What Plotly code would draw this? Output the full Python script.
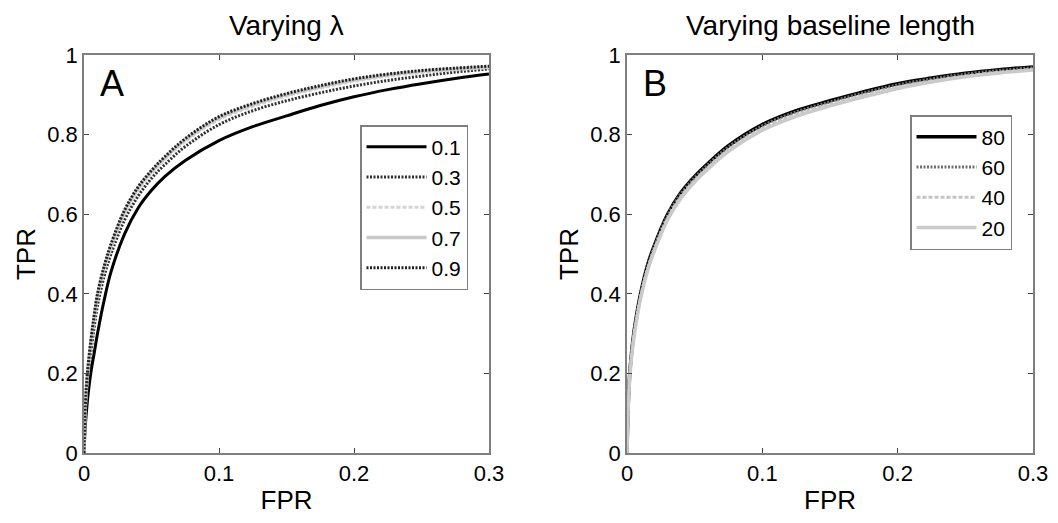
import plotly.graph_objects as go

# ---------------- data ----------------
fpr = [0, 0.001, 0.0025, 0.005, 0.0075, 0.01, 0.015, 0.02, 0.03, 0.04, 0.05,
       0.06, 0.075, 0.1, 0.125, 0.15, 0.175, 0.2, 0.225, 0.25, 0.275, 0.3]

# Panel A: varying lambda
lambda_labels = ["0.1", "0.3", "0.5", "0.7", "0.9"]
tpr_l01 = [0, 0.07, 0.13, 0.20, 0.25, 0.30, 0.385, 0.455, 0.55, 0.615, 0.66,
           0.695, 0.735, 0.785, 0.82, 0.847, 0.873, 0.895, 0.913, 0.928, 0.941, 0.952]
tpr_l03 = [0, 0.10, 0.17, 0.25, 0.315, 0.37, 0.445, 0.50, 0.585, 0.645, 0.69,
           0.725, 0.77, 0.825, 0.86, 0.885, 0.905, 0.922, 0.936, 0.947, 0.957, 0.965]
tpr_l05 = [0, 0.115, 0.19, 0.272, 0.337, 0.392, 0.462, 0.515, 0.602, 0.66, 0.703,
           0.738, 0.783, 0.838, 0.871, 0.897, 0.917, 0.934, 0.947, 0.956, 0.963, 0.968]
tpr_l07 = [0, 0.118, 0.196, 0.277, 0.342, 0.397, 0.467, 0.52, 0.607, 0.665, 0.707,
           0.742, 0.787, 0.842, 0.875, 0.900, 0.920, 0.937, 0.950, 0.959, 0.965, 0.970]
tpr_l09 = [0, 0.12, 0.20, 0.28, 0.345, 0.40, 0.47, 0.525, 0.61, 0.668, 0.71,
           0.745, 0.79, 0.845, 0.878, 0.903, 0.923, 0.94, 0.952, 0.961, 0.967, 0.972]

# Panel B: varying baseline length
baseline_labels = ["80", "60", "40", "20"]
tpr_b80 = [0, 0.13, 0.22, 0.30, 0.355, 0.40, 0.47, 0.52, 0.60, 0.655, 0.695,
           0.728, 0.772, 0.825, 0.86, 0.885, 0.908, 0.928, 0.942, 0.954, 0.963, 0.970]
tpr_b60 = [0, 0.128, 0.218, 0.297, 0.352, 0.397, 0.467, 0.517, 0.597, 0.652, 0.692,
           0.725, 0.769, 0.822, 0.857, 0.882, 0.905, 0.925, 0.940, 0.952, 0.961, 0.968]
tpr_b40 = [0, 0.125, 0.213, 0.292, 0.346, 0.391, 0.46, 0.51, 0.59, 0.645, 0.685,
           0.718, 0.762, 0.815, 0.85, 0.876, 0.899, 0.919, 0.935, 0.947, 0.957, 0.964]
tpr_b20 = [0, 0.122, 0.21, 0.288, 0.342, 0.387, 0.456, 0.506, 0.586, 0.641, 0.681,
           0.714, 0.758, 0.811, 0.846, 0.872, 0.895, 0.916, 0.932, 0.945, 0.955, 0.962]

x_ticks = [0, 0.1, 0.2, 0.3]
x_ticklabels = ["0", "0.1", "0.2", "0.3"]
y_ticks = [0, 0.2, 0.4, 0.6, 0.8, 1]
y_ticklabels = ["0", "0.2", "0.4", "0.6", "0.8", "1"]

# ---------------- figure ----------------
FONT = "Liberation Sans, Arial, sans-serif"
W, H = 1058, 523

fig = go.Figure()

styleA = [
    dict(color="black", width=3, dash="solid"),
    dict(color="#303030", width=3, dash="2px,1.5px"),
    dict(color="#d4d4d4", width=3, dash="4px,2px"),
    dict(color="#c8c8c8", width=3.5, dash="solid"),
    dict(color="#202020", width=3, dash="2px,1.5px"),
]
seriesA = [tpr_l01, tpr_l03, tpr_l05, tpr_l07, tpr_l09]
for lab, ys, st in zip(lambda_labels, seriesA, styleA):
    fig.add_trace(go.Scatter(x=fpr, y=ys, mode="lines", name=lab,
                             line=dict(shape="spline", smoothing=1.0, **st),
                             xaxis="x", yaxis="y", legend="legend", hoverinfo="skip"))

styleB = [
    dict(color="black", width=3.5, dash="solid"),
    dict(color="#707070", width=3, dash="2px,1.5px"),
    dict(color="#c4c4c4", width=3, dash="4px,2px"),
    dict(color="#cacaca", width=3.5, dash="solid"),
]
seriesB = [tpr_b80, tpr_b60, tpr_b40, tpr_b20]
for lab, ys, st in zip(baseline_labels, seriesB, styleB):
    fig.add_trace(go.Scatter(x=fpr, y=ys, mode="lines", name=lab,
                             line=dict(shape="spline", smoothing=1.0, **st),
                             xaxis="x2", yaxis="y2", legend="legend2", hoverinfo="skip"))

y_dom = [(H - 453) / H, (H - 55) / H]
axis_common = dict(
    showgrid=False, zeroline=False, showline=True, linecolor="#7f7f7f", linewidth=1.5,
    mirror="ticks", ticks="inside", ticklen=5, tickcolor="#444", tickwidth=1,
    tickfont=dict(family=FONT, size=22, color="black"), automargin=False,
)
xax = dict(axis_common, range=[0, 0.3], tickvals=x_ticks, ticktext=x_ticklabels,
           title=dict(text="FPR", font=dict(family=FONT, size=26, color="black"), standoff=6))
yax = dict(axis_common, range=[0, 1], tickvals=y_ticks, ticktext=y_ticklabels,
           title=dict(text="TPR", font=dict(family=FONT, size=26, color="black"), standoff=4))

legend_common = dict(
    bgcolor="white", bordercolor="#7f7f7f", borderwidth=1.5,
    font=dict(family=FONT, size=21, color="black"),
    xanchor="left", yanchor="top", tracegroupgap=0, itemclick=False, itemwidth=60,
)

fig.update_layout(
    template="none",
    width=W, height=H, autosize=False,
    margin=dict(l=0, r=0, t=0, b=0),
    paper_bgcolor="white", plot_bgcolor="white",
    showlegend=True,
    xaxis=dict(xax, domain=[84 / W, 489 / W], anchor="y"),
    yaxis=dict(yax, domain=y_dom, anchor="x"),
    xaxis2=dict(xax, domain=[627 / W, 1033 / W], anchor="y2"),
    yaxis2=dict(yax, domain=y_dom, anchor="x2"),
    legend=dict(legend_common, x=360 / W, y=1 - 125 / H),
    legend2=dict(legend_common, x=910 / W, y=1 - 115 / H),
    annotations=[
        dict(text="Varying λ", x=(84 + 489) / 2 / W, y=1 - 25 / H, xref="paper", yref="paper",
             showarrow=False, font=dict(family=FONT, size=28, color="black"), xanchor="center", yanchor="middle"),
        dict(text="Varying baseline length", x=(627 + 1033) / 2 / W, y=1 - 25 / H, xref="paper", yref="paper",
             showarrow=False, font=dict(family=FONT, size=28, color="black"), xanchor="center", yanchor="middle"),
        dict(text="A", x=0.035, y=0.985, xref="x domain", yref="y domain", showarrow=False,
             font=dict(family=FONT, size=36, color="black"), xanchor="left", yanchor="top"),
        dict(text="B", x=0.035, y=0.985, xref="x2 domain", yref="y2 domain", showarrow=False,
             font=dict(family=FONT, size=36, color="black"), xanchor="left", yanchor="top"),
    ],
)

fig.write_html("out.html", config={"displayModeBar": False},
               post_script="document.body.style.margin='0';document.body.style.overflow='hidden';")
